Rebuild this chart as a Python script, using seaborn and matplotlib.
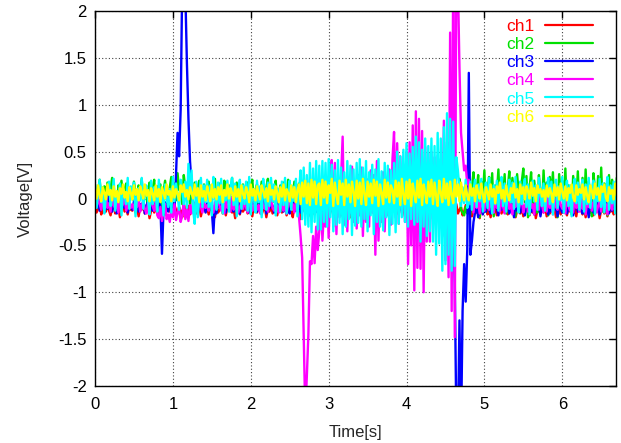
import numpy as np
import pandas as pd
import matplotlib
matplotlib.use("Agg")
import matplotlib.pyplot as plt
import seaborn as sns
from matplotlib.ticker import FormatStrFormatter

# Six-channel voltage record, sampled every 20 ms, values in millivolts.
SAMPLE_INTERVAL = 0.02

ch1_mv = [
    -80, -150, -110, -60, -170, -120, -90, -140, -50, -130, -180, -100, -70, -160, -120, -90, -200, -110, -60, -140, -100, -170, -80, -120,
    -130, -60, -150, -100, -190, -90, -120, -40, -160, -110, -80, -210, -130, -70, -150, -100, -120, -180, -60, -140, -90, -170, -110, -50,
    -140, -100, -180, -70, -120, -160, -90, -130, -200, -60, -110, -150, -80, -170, -120, -100, -50, -160, -130, -90, -190, -110, -70, -140,
    -100, -170, -60, -130, -110, -200, -80, -150, -120, -40, -160, -100, -180, -90, -130, -70, -150, -110, -210, -60, -120, -170, -90, -140,
    -110, -60, -160, -130, -90, -190, -70, -120, -150, -100, -50, -170, -120, -80, -200, -110, -140, -60, -160, -100, -130, -180, -90, -70,
    -150, -110, -60, -180, -120, -90, -140, -200, -70, -130, -100, -160, -220, -80, -120, -150, -60, -190, -110, -140, -90, -170, -120, -80,
    -120, -160, -80, -140, -100, -190, -60, -130, -110, -170, -90, -150, -70, -120, -180, -100, -140, -60, -160, -110, -200, -90, -130, -70,
    -140, -90, -170, -110, -60, -150, -120, -200, -80, -130, -100, -160, -50, -140, -110, -180, -90, -120, -160, -70, -130, -100, -190, -110,
    -80, -150, -110, -170, -60, -130, -100, -190, -120, -70, -160, -90, -140, -110, -200, -80, -130, -150, -60, -120, -170, -100, -140, -90,
    -130, -70, -160, -110, -190, -90, -140, -60, -120, -170, -100, -150, -80, -130, -200, -110, -60, -160, -120, -90, -180, -140, -70, -120,
    -160, -100, -190, -120, -70, -150, -130, -210, -90, -140, -110, -60, -170, -120, -200, -80, -150, -100, -180, -130, -60, -160, -110, -140,
    -90, -170, -120, -60, -150, -110, -200, -130, -80, -160, -100, -190, -140, -70, -120, -180, -110, -150, -60, -210, -130, -90, -170, -100,
    -150, -80, -190, -120, -160, -60, -140, -110, -200, -90, -130, -170, -70, -150, -120, -180, -100, -140, -60, -160, -110, -190, -80, -130,
    -120, -170, -90, -200, -110, -60, -150, -130, -180, -80, -140, -100, -210, -120, -70, -160, -110, -190, -90, -140, -120, -170, -100, -150,
]

ch2_mv = [
    150, -30, 80, 200, 10, -90, 130, 40, 170, -50, 100, 220, 0, 60, -120, 140, 30, 190, -20, 90, 160, -70, 50, 120,
    -10, 180, 70, -100, 140, 30, 210, -40, 110, 60, -130, 170, 20, 90, 200, -60, 130, 0, 150, -110, 80, 190, 40, -30,
    120, 230, 50, 160, -20, 270, 90, 180, -60, 250, 110, 40, 200, -80, 140, 60, 170, -30, 120, 190, 10, -100, 150, 70,
    30, 180, -50, 130, 90, 210, -120, 60, 160, 20, -70, 190, 100, -20, 140, 50, 220, -90, 80, 170, 0, 120, -40, 150,
    60, -80, 170, 20, 130, 200, -30, 90, 150, -110, 40, 180, 70, -60, 120, 210, 10, 160, -40, 100, 190, -20, 60, 140,
    -50, 170, 90, 20, 200, -100, 130, 50, 180, -30, 110, 160, -70, 70, 190, 0, 140, -120, 100, 170, 30, -40, 150, 60,
    120, -20, 180, 60, -90, 150, 30, 210, -50, 100, 170, 10, -110, 140, 80, 190, -30, 120, 50, -80, 160, 20, 200, 70,
    -40, 130, 180, 20, -100, 150, 60, 200, -20, 110, -70, 170, 40, 130, -50, 190, 80, 10, 160, -120, 120, 50, 210, -10,
    100, 170, -60, 140, 30, 200, -90, 80, 160, 0, 120, -40, 190, 60, -110, 150, 20, 180, -30, 110, 70, 210, -80, 130,
    40, -50, 180, 90, -20, 150, 200, -100, 60, 130, -30, 170, 20, 110, 190, -70, 140, 50, 210, -120, -150, -180, -90, -160,
    220, -170, 120, 280, -110, 60, 250, -200, 180, 20, 300, -140, 90, 230, -60, 270, -190, 140, 40, 310, -120, 200, -30, 260,
    -160, 100, 290, -80, 220, 10, -190, 260, 70, -130, 180, 320, -40, 240, -200, 110, 280, -90, 190, 30, -150, 250, 60, -110,
    300, -60, 170, -180, 230, 40, 280, -120, 90, -200, 260, 20, 190, -90, 320, -150, 140, 60, -170, 240, 100, -40, 290, -130,
    50, 220, -160, 310, -70, 180, 30, -190, 270, 110, -100, 240, -50, 330, -140, 160, 60, -180, 250, -30, 200, 80, -120, 220,
]

ch3_mv = [
    -40, -100, -20, -130, -70, 0, -150, -60, -110, 20, -90, -140, -30, -80, -160, -50, 10, -120, -70, -100, -20, -150, -60, -90,
    -120, -30, -80, 10, -140, -60, -100, -20, -160, -70, -40, -110, 0, -130, -80, -50, -150, -10, -90, -590, -120, -40, -70, -140,
    -20, -100, -60, -130, 250, 700, 450, 950, 2300, 2100, 2200, 1450, 850, 400, 150, -60, -110, -20, -140, -80, -30, -120, -60, -150,
    -50, -100, -10, -130, -370, -70, -160, -40, -90, 0, -120, -60, -150, -30, -80, 20, -110, -140, -50, -90, -10, -160, -70, -100,
    -30, -120, -80, -150, -20, -60, -100, 10, -140, -70, -40, -130, -90, 0, -160, -50, -110, -30, -80, -150, -60, 20, -120, -90,
    -40, -140, -70, -10, -110, -160, -50, -90, 0, -130, -70, -30, -150, -100, -60, -120, -20, -170, -80, -40, -110, -60, -140, -20,
    -90, -130, -50, -160, -10, -100, -70, -140, -30, -80, -120, 10, -150, -60, -100, -40, -130, -70, -20, -110, -160, -50, -90, -30,
    -120, -60, -150, -20, -90, -110, -40, -140, -70, 0, -130, -80, -160, -50, -100, -30, -120, -10, -90, -150, -60, -110, -40, -130,
    -70, -150, -30, -100, -60, -130, 10, -90, -160, -50, -120, -20, -80, -140, -40, -110, -70, 0, -150, -90, -30, -130, -60, -100,
    -40, -120, -80, -10, -150, -60, -100, -30, -140, -70, -110, -50, -160, -90, -250, -900, -2400, -2500, -1300, -2500, -1200, -700, -1100, -550,
    1340, -600, -450, -250, -150, -80, -200, -120, -40, -170, -90, -140, -20, -110, -160, -60, -130, -30, -100, -180, -70, -120, 10, -150,
    -90, -40, -160, -110, -60, -200, -20, -130, -80, -150, -50, -120, -180, -70, -100, 0, -140, -90, -170, -40, -110, -60, -190, -80,
    -130, -30, -100, -170, -60, -140, 10, -120, -80, -190, -40, -110, -150, -70, -20, -160, -100, -130, -50, -180, -90, -30, -140, -70,
    -110, -160, -40, -130, -80, -200, -20, -100, -150, -60, -120, -30, -170, -90, -50, -140, -10, -110, -160, -70, -130, -40, -100, -150,
]

ch4_mv = [
    -30, -90, 10, -60, -120, -20, -80, 30, -100, -50, -140, 0, -70, -110, -40, -150, -10, -90, -60, 20, -130, -80, -30, -100,
    -60, -120, -20, -90, 10, -140, -70, -40, -110, -160, -50, -100, 0, -80, -130, -30, -180, -210, -90, -240, -130, -60, -220, -170,
    -250, -110, -200, -60, -230, -150, -90, -250, -180, -40, -220, -120, -240, -70, -160, -30, -110, -60, -140, -20, -90, -150, -40, -100,
    -70, -130, 0, -90, -150, -40, -110, 20, -80, -130, -50, -160, -20, -100, -60, -140, 10, -120, -70, -30, -150, -90, -40, -110,
    -20, -100, -150, -50, 10, -130, -80, -40, -120, -70, -160, 0, -90, -110, -30, -140, -60, 20, -100, -130, -50, -80, -150, -10,
    -90, -130, -40, -160, -70, 10, -110, -60, -150, -20, -100, -200, -400, -630, -1450, -2300, -1900, -1450, -670, -700, -400, -690, -300, -550,
    -350, 100, -450, -150, -300, 150, -420, 100, 410, -300, 380, -380, 150, -200, 240, 660, -280, 120, -350, 200, -150, 340, -250, 180,
    -320, 250, -180, 330, -400, 120, -250, 200, -300, 300, -150, 250, -600, 400, -450, 150, -250, 280, -350, 200, -180, 310, -280, 420,
    710, -200, 590, -270, 450, -150, 300, -250, 500, -700, 600, -500, 780, -980, 930, -740, 850, -750, 720, -1000, 550, -460, 480, -460,
    500, -220, 440, -200, 460, -250, 420, -400, 830, -660, 600, -840, 1770, -1200, 2600, -1480, 2600, 2300, 1400, 700, 500, 300, 350, 150,
    200, -60, 100, -150, 30, -100, -40, -160, 20, -90, -130, 40, -70, -120, 0, -80, -150, 60, -100, -30, -140, 10, -90, -160,
    -40, 30, -110, -60, -170, -20, -90, 80, -130, -50, -10, -150, -80, -30, -140, 20, -100, -60, -170, 0, -90, -120, 40, -70,
    -150, -30, -140, 20, -100, -60, -170, 0, -90, -120, 40, -70, -110, -20, -160, 60, -80, -130, -40, -150, 10, -100, -60, -140,
    30, -110, -60, -170, -20, -90, 80, -130, -50, -10, -150, -80, -30, -140, 20, -100, -60, -170, 0, -90, -120, 40, -70, -150,
]

ch5_mv = [
    150, -100, 60, 200, -40, 120, -160, 30, 90, 180, -80, 10, 210, -130, 70, -20, 160, -180, 100, 40, -60, 220, -110, 130,
    60, 170, -190, 20, 110, -20, 220, -110, 80, 140, 0, -170, 190, -60, 120, 30, -140, 200, -30, 90, -180, 150, 10, -90,
    100, -150, 230, -30, 160, 40, -120, 200, 80, -60, 180, -100, 370, 50, 300, -120, -270, 180, -200, 60, 220, -90, 140, -40,
    200, -90, 140, -180, 230, 30, -120, 170, -50, 210, -160, 90, -20, 190, -140, 120, 220, -70, 160, -190, 80, 200, -110, 140,
    -60, 180, -130, 230, -170, 100, 20, -150, 190, -40, 130, -200, 210, 0, -120, 170, -80, 220, -30, 150, -180, 100, 60, -140,
    180, -70, 220, -160, 40, 190, -120, 130, -30, 210, -190, 80, 300, -220, 330, -280, 250, -300, 380, -360, 320, -250, 400, -330,
    350, -330, 400, -250, 380, -300, 420, -200, 360, -350, 300, -280, 410, -260, 330, -380, 280, -300, 400, -220, 350, -390, 310, -290,
    380, -260, 420, -300, 330, -220, 400, -350, 280, -180, 360, -380, 310, -250, 420, -300, 290, -340, 380, -200, 350, -390, 300, -270,
    380, -360, 500, -270, 450, -200, 520, -250, 590, -300, 480, -220, 550, -280, 660, -250, 600, -460, 520, -300, 640, -400, 560, -350,
    640, -460, 560, -600, 700, -480, 640, -770, 760, -700, 910, -600, 850, -770, 820, -720, 440, 300, 100, -80, 120, -50, 200, -100,
    -50, 180, -120, 90, 200, -90, 150, -30, 210, -140, 60, 170, -100, 220, 20, -160, 140, -60, 190, -130, 100, 230, -80, 160,
    -140, 80, 200, -40, 170, -110, 230, 10, -150, 180, -60, 120, 210, -90, 150, -170, 60, 190, -30, 140, -120, 220, 40, -80,
    160, -130, 90, 220, -60, 180, -170, 50, 200, -100, 130, -20, 230, -150, 70, 190, -80, 140, -190, 100, 210, -50, 170, -120,
    30, 200, -140, 150, -60, 220, -100, 80, 190, -170, 120, -30, 210, -90, 160, -150, 60, 230, -120, 140, -50, 180, -160, 100,
]

ch6_mv = [
    100, 0, 140, 30, -30, 120, 60, -10, 150, 40, 90, -20, 130, 20, 80, -40, 110, 50, 150, 10, 70, -30, 120, 60,
    -10, 140, 40, 100, -20, 130, 70, 0, 150, 30, 90, -30, 110, 50, -20, 140, 20, 100, -40, 120, 60, 0, 150, 40,
    80, -30, 130, 10, 100, 50, -20, 140, 70, 150, 20, 90, -10, 120, 60, 0, 150, 30, 110, -40, 140, 20, 80, -20,
    130, 60, -30, 150, 10, 100, -10, 120, 40, 140, -40, 90, 30, 150, 0, 110, 60, -20, 130, 20, 100, -30, 140, 50,
    0, 120, 70, -40, 150, 30, 100, -20, 130, 50, -10, 140, 80, 10, 110, -30, 150, 40, 90, -10, 130, 60, -40, 120,
    20, 150, -20, 100, 60, -30, 140, 10, 120, -40, 90, 150, -60, 170, 20, 190, -50, 160, -70, 200, 10, 180, -60, 140,
    160, -70, 200, 10, 180, -50, 140, 60, 210, -80, 170, 30, -60, 190, 40, 160, -70, 200, 20, 150, -40, 180, 70, -80,
    190, 0, 170, -60, 210, 50, -70, 180, 20, 160, -50, 200, 30, 180, -80, 150, 60, -60, 200, 10, 170, -40, 140, 90,
    -50, 190, 20, 170, -70, 210, 40, -60, 180, 0, 200, -80, 160, 50, -40, 190, 10, 210, -70, 150, 60, -50, 180, 20,
    200, -60, 170, 30, -80, 190, 60, -40, 210, 0, 160, -70, 180, 40, -50, 200, 20, 150, -30, 170, 60, -20, 140, 30,
    -20, 150, 30, 110, -30, 140, 60, 0, 160, 40, -40, 120, 70, -10, 150, 20, 100, -50, 130, 60, 170, 0, 90, -30,
    140, 40, -20, 110, 60, 160, 10, 100, -40, 150, 50, 120, -10, 130, 80, 0, 170, 30, 110, -30, 140, 60, 100, 20,
    90, -30, 140, 20, 110, 50, -40, 150, 30, 120, -10, 160, 70, 0, 130, -20, 110, 60, 150, 10, -30, 140, 40, 100,
    60, 150, -10, 120, 30, -40, 140, 80, 0, 160, 40, 110, -20, 130, 70, 150, 10, -30, 120, 50, 90, -10, 160, 30,
]

channel_names = ["ch1", "ch2", "ch3", "ch4", "ch5", "ch6"]
channel_colors = ["#ff0000", "#00e000", "#0000ff", "#ff00ff", "#00ffff", "#ffff00"]
x_ticks = [0, 1, 2, 3, 4, 5, 6]
y_ticks = [-2, -1.5, -1, -0.5, 0, 0.5, 1, 1.5, 2]

series = [ch1_mv, ch2_mv, ch3_mv, ch4_mv, ch5_mv, ch6_mv]
frames = []
for name, mv in zip(channel_names, series):
    t = np.arange(len(mv)) * SAMPLE_INTERVAL
    frames.append(pd.DataFrame({"Time": t, "Voltage": np.asarray(mv) / 1000.0,
                                "channel": name}))
df = pd.concat(frames, ignore_index=True)

sns.set_theme(style="white")
plt.rcParams["font.family"] = ["Liberation Sans", "DejaVu Sans"]
plt.rcParams["font.size"] = 12

fig = plt.figure(figsize=(6.21, 4.43), dpi=100)
ax = fig.add_axes([95 / 621, 1 - 386 / 443, (616 - 95) / 621, (386 - 11) / 443])

sns.lineplot(data=df, x="Time", y="Voltage", hue="channel",
             hue_order=channel_names, palette=channel_colors,
             estimator=None, sort=False, linewidth=1.7, ax=ax)

ax.set_xlim(0, 6.69)
ax.set_ylim(-2, 2)
ax.set_xticks(x_ticks)
ax.set_yticks(y_ticks)
ax.yaxis.set_major_formatter(FormatStrFormatter("%g"))
ax.tick_params(direction="in", length=5, width=1, top=True, right=True,
               labelsize=12, colors="black")
ax.tick_params(axis="x", pad=8)
ax.tick_params(axis="y", pad=6)
ax.grid(True, color="0.25", linestyle=(0, (1, 2)), linewidth=0.8)
ax.set_axisbelow(True)
for sp in ax.spines.values():
    sp.set_color("black")
    sp.set_linewidth(1)

ax.set_xlabel("Time[s]", fontsize=12, labelpad=9)
ax.set_ylabel("Voltage[V]", fontsize=12, labelpad=18)

leg = ax.legend(loc="upper right", bbox_to_anchor=(0.963, 0.988), frameon=False,
                markerfirst=False, labelcolor="linecolor", fontsize=12.5,
                handlelength=2.8, handletextpad=0.6, labelspacing=0.17,
                borderpad=0.2, borderaxespad=0.0)
for line in leg.get_lines():
    line.set_linewidth(1.6)

fig.savefig("out.png", dpi=100)
